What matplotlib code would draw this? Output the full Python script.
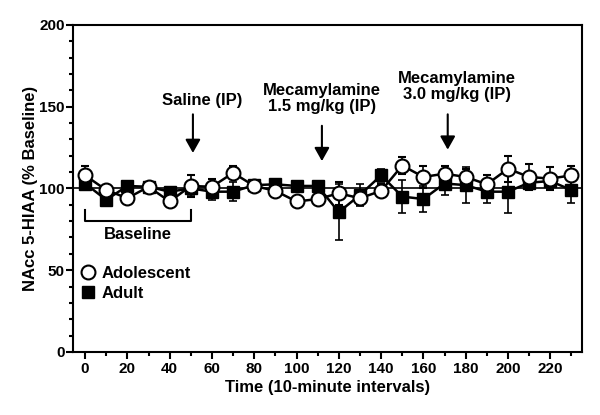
import matplotlib
matplotlib.use("Agg")
import matplotlib.pyplot as plt
from matplotlib.lines import Line2D
from matplotlib.ticker import MultipleLocator

plt.rcParams["font.family"] = ["Liberation Sans", "DejaVu Sans"]
plt.rcParams["font.weight"] = "bold"

time = [0, 10, 20, 30, 40, 50, 60, 70, 80, 90, 100, 110, 120, 130, 140, 150,
        160, 170, 180, 190, 200, 210, 220, 230]
adolescent = [108, 99, 94, 101, 92, 101.5, 101, 109.5, 101.5, 98.5, 92, 93.5,
              97, 94, 98.5, 114, 107, 109, 107, 102.5, 112, 107, 106, 108]
adolescent_err = [6, 3, 3, 3, 3, 7, 5, 4, 3, 3, 3, 3,
                  7, 4, 4, 5, 7, 5, 5, 6, 8, 8, 7, 6]
adult = [103, 93, 101.5, 101, 98, 100, 98, 98, 102, 102.5, 101.5, 101.5,
         85.5, 96, 108, 95, 93.5, 103, 102, 98, 98, 103.5, 104.5, 99]
adult_err = [4, 3, 3, 3, 3, 4, 5, 6, 3, 3, 3, 3,
             17, 7, 4, 10, 8, 7, 11, 7, 13, 4, 4, 8]

# text annotations: (label, arrow x, text y, arrow top, arrow tip)
annotations = [
    ("Saline (IP)", 51, 154, 147, 120),
    ("Mecamylamine\n1.5 mg/kg (IP)", 112, 155, 140, 115),
    ("Mecamylamine\n3.0 mg/kg (IP)", 171.5, 162.5, 147, 122),
]
text_x = [55.5, 112, 176]

fig = plt.figure(figsize=(6, 4.15), dpi=100)
ax = fig.add_axes([0.1217, 0.152, 0.8483, 0.788])

ax.axhline(100, color="black", linewidth=1.2, zorder=1)

ax.errorbar(time, adult, yerr=adult_err, fmt="-s", color="black",
            markerfacecolor="black", markeredgecolor="black", markersize=9,
            linewidth=1.8, elinewidth=1.2, capsize=3, capthick=1.2, zorder=3)
ax.errorbar(time, adolescent, yerr=adolescent_err, fmt="-o", color="black",
            markerfacecolor="white", markeredgecolor="black", markersize=10,
            markeredgewidth=1.5, linewidth=1.8, elinewidth=1.2, capsize=3,
            capthick=1.2, zorder=4)

# baseline bracket
ax.plot([0, 0, 50, 50], [87, 80, 80, 87], color="black", linewidth=1.5,
        clip_on=False)
ax.text(25, 72, "Baseline", ha="center", va="center", fontsize=12,
        fontweight="bold")

for (label, ax_x, ty, top, tip), tx in zip(annotations, text_x):
    ax.text(tx, ty, label, ha="center", va="center", fontsize=12,
            fontweight="bold", linespacing=1.1)
    ax.annotate("", xy=(ax_x, tip), xytext=(ax_x, top),
                arrowprops=dict(arrowstyle="-|>,head_length=0.8,head_width=0.45",
                                color="black", linewidth=1.5))

ax.set_xlim(-5.7, 235)
ax.set_ylim(0, 200)
ax.xaxis.set_major_locator(MultipleLocator(20))
ax.xaxis.set_minor_locator(MultipleLocator(10))
ax.yaxis.set_major_locator(MultipleLocator(50))
ax.yaxis.set_minor_locator(MultipleLocator(10))
ax.tick_params(which="major", length=5, width=1.5, labelsize=11)
ax.tick_params(which="minor", length=3, width=1.5)
ax.tick_params(axis="x", which="major", pad=2)
ax.tick_params(axis="y", which="major", pad=1)
for lab in ax.get_xticklabels() + ax.get_yticklabels():
    lab.set_fontweight("bold")
for sp in ax.spines.values():
    sp.set_linewidth(1.5)

ax.set_xlabel("Time (10-minute intervals)", fontsize=12, fontweight="bold",
              labelpad=3)
ax.set_ylabel("NAcc 5-HIAA (% Baseline)", fontsize=12, fontweight="bold",
              labelpad=1)

handles = [
    Line2D([], [], linestyle="none", marker="o", markersize=10,
           markerfacecolor="white", markeredgecolor="black",
           markeredgewidth=1.5),
    Line2D([], [], linestyle="none", marker="s", markersize=9,
           markerfacecolor="black", markeredgecolor="black"),
]
ax.legend(handles, ["Adolescent", "Adult"], loc="upper left",
          bbox_to_anchor=(-0.01, 0.31), frameon=False,
          handlelength=0.6, handletextpad=0.5, labelspacing=0.3,
          prop={"weight": "bold", "size": 12})

fig.savefig("out.png", dpi=100)
